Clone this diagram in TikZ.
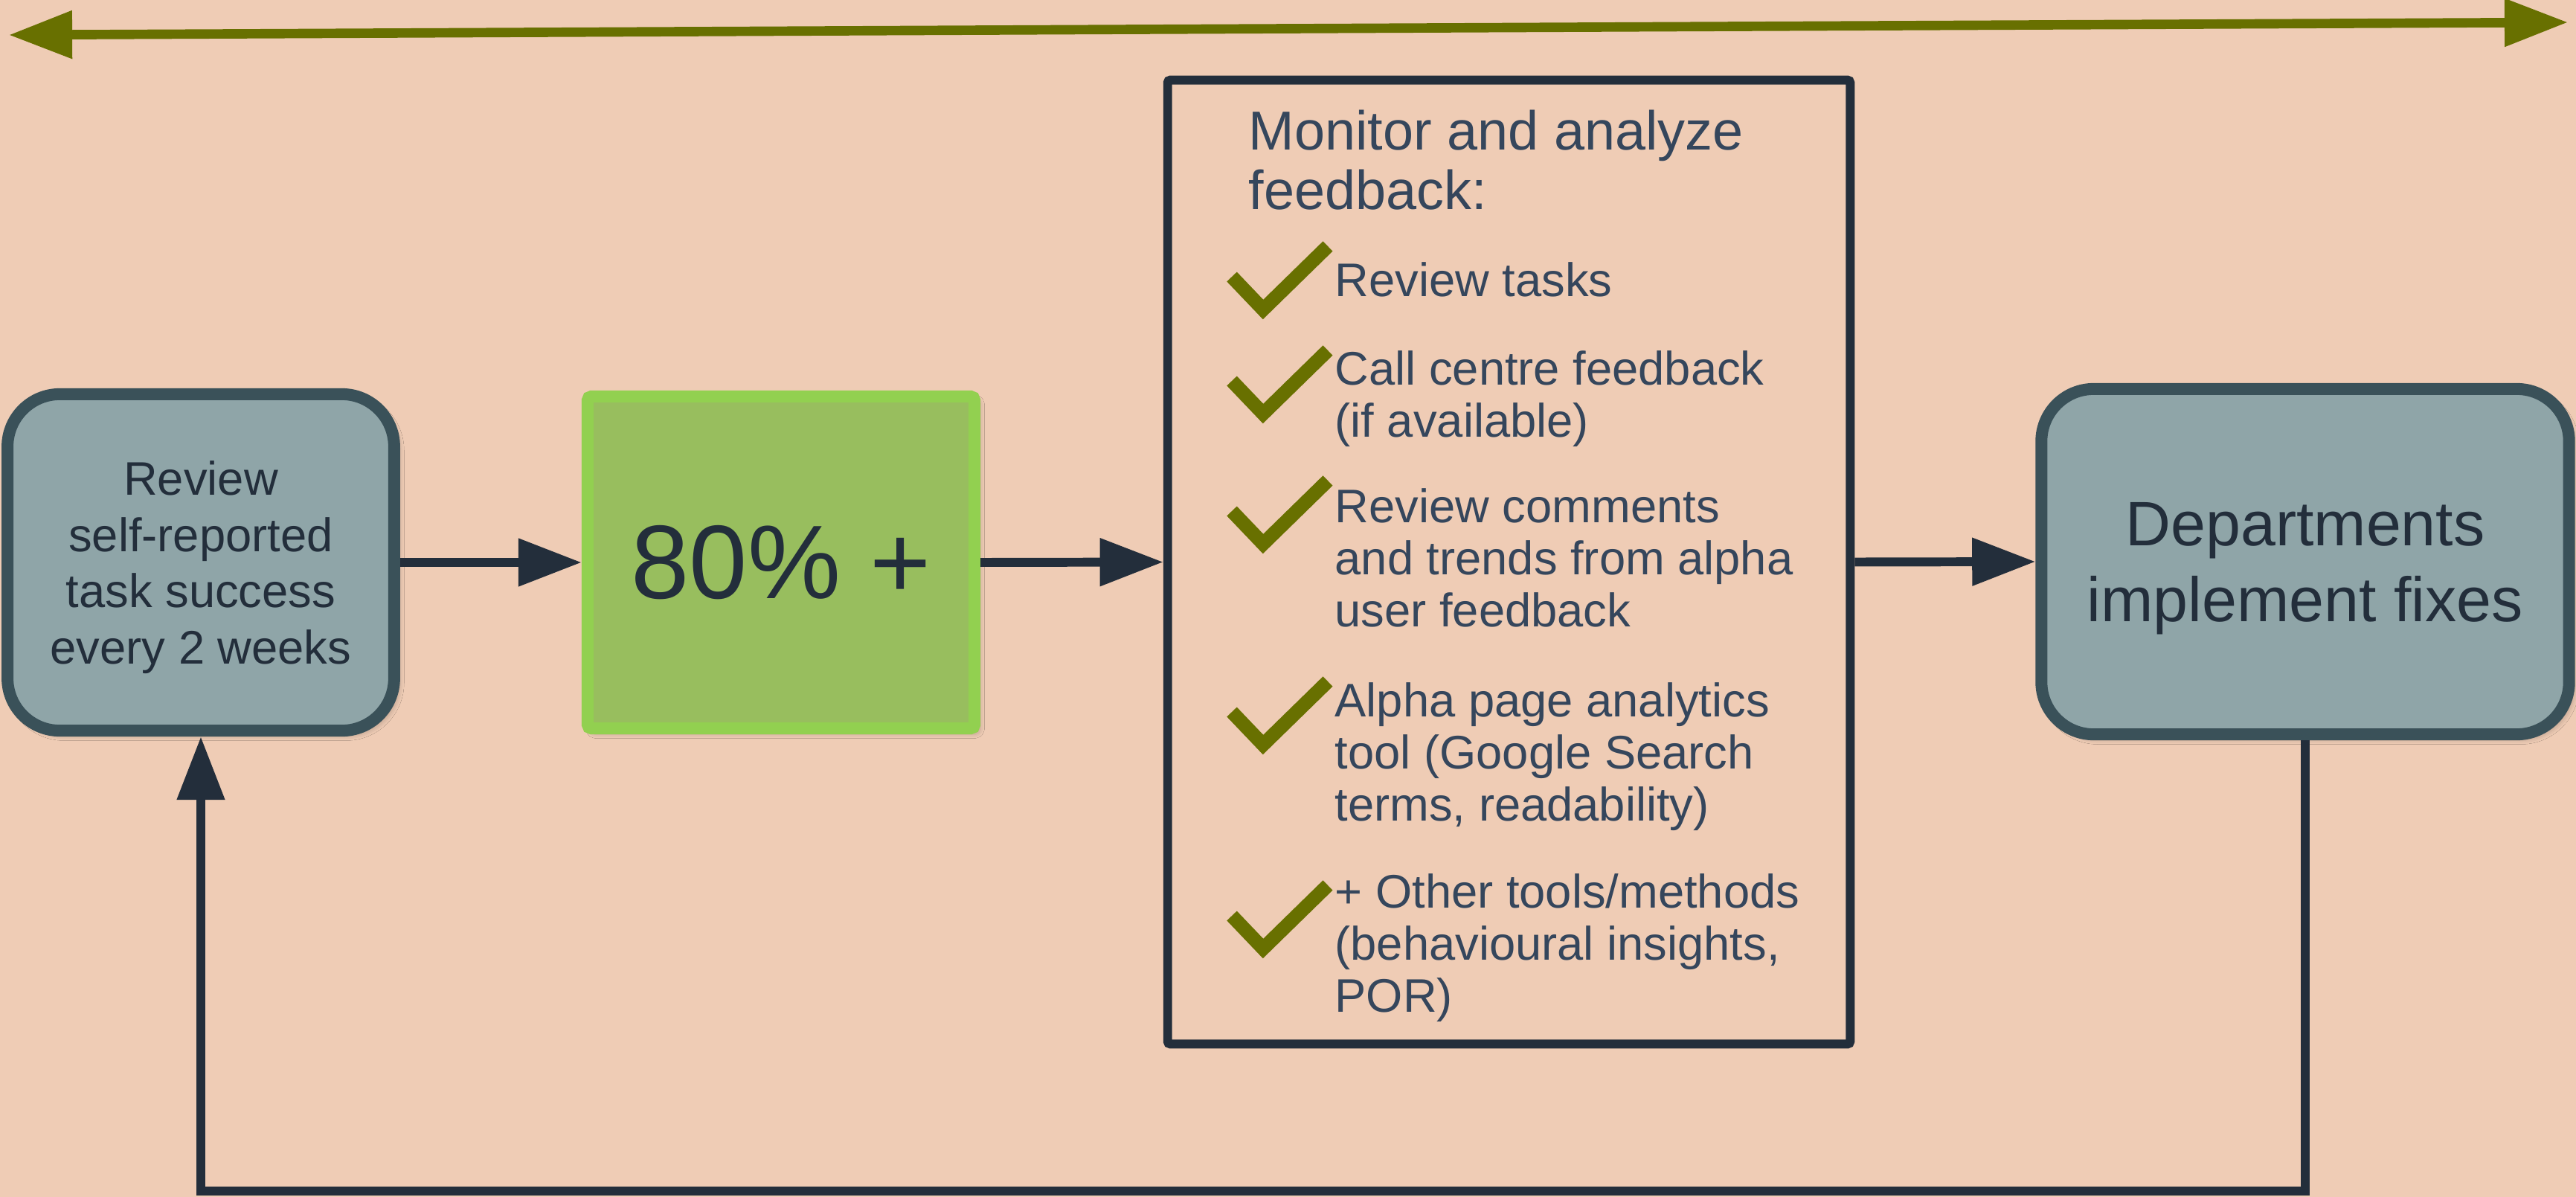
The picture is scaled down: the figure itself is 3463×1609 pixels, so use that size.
\documentclass[tikz,border=0pt]{standalone}
\usepackage{fontspec}
\setmainfont{Liberation Sans}
\usetikzlibrary{arrows.meta,shadows.blur}

\definecolor{paper}{HTML}{EFCCB5}
\definecolor{olivegreen}{RGB}{104,112,0}
\definecolor{ink}{HTML}{232E3B}
\definecolor{slate}{HTML}{35465C}
\definecolor{boxfill}{HTML}{8FA5A8}
\definecolor{boxline}{HTML}{3A5159}
\definecolor{leaffill}{HTML}{98BE5E}
\definecolor{leafline}{HTML}{92D050}

\begin{document}
\begin{tikzpicture}[x=0.01cm, y=-0.01cm,
  softshadow/.style={blur shadow={shadow xshift=1.6pt, shadow yshift=-1.6pt,
      shadow blur radius=2.2pt, shadow opacity=30}},
  roundbox/.style={draw=boxline, fill=boxfill, line width=4.55pt,
      rounded corners=20pt, align=center, text=ink, softshadow},
  greenbox/.style={draw=leafline, fill=leaffill, line width=4.55pt,
      rounded corners=1.5pt, text=ink, softshadow},
  listbox/.style={draw=ink, line width=3.4pt, rounded corners=1pt},
  itemtext/.style={anchor=north west, inner sep=0pt, align=left, text=slate,
      font=\fontsize{18}{19.9}\selectfont},
  link/.style={draw=ink, line width=3.4pt,
      -{Triangle[length=24.2pt, width=17.6pt]}},
  span/.style={draw=olivegreen, line width=3.6pt,
      {Triangle[length=24.2pt, width=17.6pt]}-{Triangle[length=24.2pt, width=17.6pt]}},
  checkmark/.pic={
    \draw[olivegreen, line width=5.3pt, line join=miter]
      (-42,-44) -- (0,0) -- (87,-85);
  }
]
% page
\fill[paper] (0,0) rectangle (3463,1609);
\useasboundingbox (0,0) rectangle (3463,1609);

% double-headed bar along the top
\coordinate (spanL) at (12,47);
\coordinate (spanR) at (3452,30);
\draw[span] (spanL) -- (spanR);

% process boxes
\node[roundbox, minimum width=5.195cm, minimum height=4.52cm, text depth=0pt,
      font=\fontsize{18}{21.5}\selectfont] (review) at (270,756)
  {Review\\self-reported\\task success\\every 2 weeks};

\node[greenbox, minimum width=5.2cm, minimum height=4.46cm,
      font=\fontsize{40}{48}\selectfont] (target) at (1050,756) {80\% +};

\node[listbox, minimum width=9.17cm, minimum height=12.95cm] (monitor)
  at (2028.5,755.5) {};

\node[roundbox, minimum width=7.09cm, minimum height=4.64cm, text depth=0pt,
      font=\fontsize{24}{29}\selectfont] (fixes) at (3099,755)
  {Departments\\implement fixes};

% contents of the monitoring box
\node[itemtext, font=\fontsize{21}{22.8}\selectfont] (title) at (1678,147)
  {Monitor and analyze\\feedback:};
\node[itemtext] (item1) at (1794,352) {Review tasks};
\node[itemtext] (item2) at (1794,471) {Call centre feedback\\(if available)};
\node[itemtext] (item3) at (1794,656) {Review comments\\and trends from alpha\\user feedback};
\node[itemtext] (item4) at (1794,917) {Alpha page analytics\\tool (Google Search\\terms, readability)};
\node[itemtext] (item5) at (1794,1174) {+ Other tools/methods\\(behavioural insights,\\POR)};

\pic at (1698,416) {checkmark};
\pic at (1698,556) {checkmark};
\pic at (1698,731) {checkmark};
\pic at (1698,1001) {checkmark};
\pic at (1698,1275) {checkmark};

% flow
\draw[link] (review.east) -- (target.west);
\draw[link] (target.east) -- (monitor.west);
\draw[link] (monitor.east) -- (fixes.west);

% feedback loop back to the start
\coordinate (loop) at (0,1601);
\draw[link] (fixes.south) -- (fixes.south |- loop) -- (review.south |- loop) -- (review.south);
\end{tikzpicture}
\end{document}
